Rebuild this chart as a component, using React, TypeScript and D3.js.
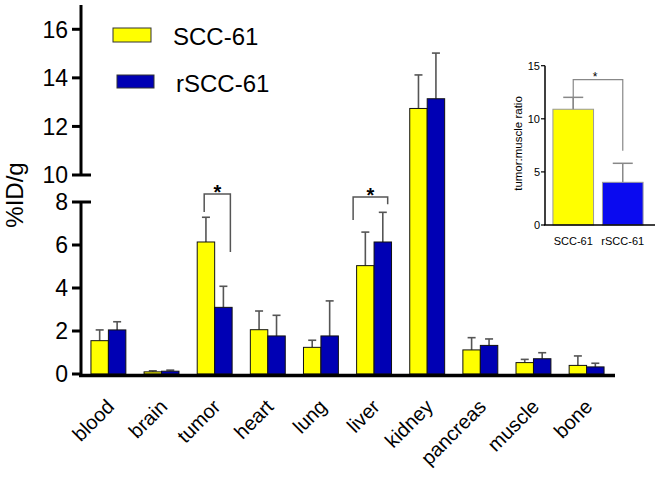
import React from "react";
import * as d3 from "d3";

const organs = ["blood", "brain", "tumor", "heart", "lung", "liver", "kidney", "pancreas", "muscle", "bone"];
const seriesNames = ["SCC-61", "rSCC-61"];
const scc61 = [1.55, 0.1, 6.14, 2.06, 1.24, 5.04, 12.74, 1.12, 0.53, 0.4];
const scc61Err = [0.5, 0.05, 1.15, 0.87, 0.33, 1.56, 1.38, 0.57, 0.15, 0.44];
const rscc61 = [2.05, 0.13, 3.1, 1.77, 1.77, 6.14, 13.14, 1.33, 0.71, 0.33];
const rscc61Err = [0.38, 0.05, 0.98, 0.96, 1.63, 1.38, 1.88, 0.3, 0.28, 0.17];
const lowerTicks = [0, 2, 4, 6, 8];
const upperTicks = [10, 12, 14, 16];
const yLabel = "%ID/g";

// significance brackets: group, top value, left leg end, right leg end, leg x as fraction of group width
const brackets = [
  { group: "tumor", top: 8.6, leftEnd: 7.53, rightEnd: 5.67, x0: 0.2, x1: 0.95 },
  { group: "liver", top: 8.37, leftEnd: 7.16, rightEnd: 7.9, x0: -0.1, x1: 0.89 },
];

// inset
const insetCats = ["SCC-61", "rSCC-61"];
const insetValues = [10.9, 4.02];
const insetErr = [1.12, 1.79];
const insetTicks = [0, 5, 10, 15];
const insetLabel = "tumor:muscle ratio";
const insetBracket = { top: 13.68, leftEnd: 10.9, rightEnd: 7.0 };

const FONT = "'Liberation Sans', Arial, Helvetica, sans-serif";
const YELLOW = "#ffff00";
const BLUE = "#0000b4";
const ERR = "#555555";

export default function App() {
  const W = 656, H = 479;
  const axisX = 81;
  const x = d3.scaleBand<string>().domain(organs).range([80, 615]).paddingInner(0.343).paddingOuter(0.206);
  const sub = d3.scaleBand<string>().domain(seriesNames).range([0, x.bandwidth()]);
  const yLow = d3.scaleLinear().domain([0, 8]).range([374, 202]);
  const yUp = d3.scaleLinear().domain([10, 17]).range([175, 5]);
  const yGap = d3.scaleLinear().domain([8, 10]).range([202, 175]);
  const y = (v: number) => (v <= 8 ? yLow(v) : v >= 10 ? yUp(v) : yGap(v));

  const series = [
    { name: seriesNames[0], vals: scc61, errs: scc61Err, color: YELLOW },
    { name: seriesNames[1], vals: rscc61, errs: rscc61Err, color: BLUE },
  ];

  // inset scales
  const ix = d3.scaleBand<string>().domain(insetCats).range([545, 651]).paddingInner(0.18).paddingOuter(0.16);
  const iy = d3.scaleLinear().domain([0, 15]).range([225, 65.7]);
  const insetColors = [YELLOW, "#0a0af0"];

  return (
    <svg width={W} height={H} style={{ position: "absolute", left: 0, top: 0, background: "#fff" }} fontFamily={FONT}>
      {/* bars */}
      {series.map((s) =>
        organs.map((o, i) => {
          const bx = (x(o) as number) + (sub(s.name) as number);
          const bw = sub.bandwidth();
          const v = s.vals[i];
          const top = v + s.errs[i];
          const cx = bx + bw / 2;
          return (
            <g key={s.name + o}>
              <line x1={cx} x2={cx} y1={y(v)} y2={y(top)} stroke={ERR} strokeWidth={1.6} />
              <line x1={cx - 4} x2={cx + 4} y1={y(top)} y2={y(top)} stroke={ERR} strokeWidth={1.6} />
              <rect x={bx} y={y(v)} width={bw} height={y(0) - y(v)} fill={s.color} stroke="#111" strokeWidth={1} />
            </g>
          );
        })
      )}
      {/* brackets */}
      {brackets.map((b) => {
        const gx = x(b.group) as number;
        const lx = gx + b.x0 * x.bandwidth();
        const rx = gx + b.x1 * x.bandwidth();
        return (
          <g key={b.group}>
            <path
              d={`M${lx},${y(b.leftEnd)}V${y(b.top)}H${rx}V${y(b.rightEnd)}`}
              fill="none"
              stroke={ERR}
              strokeWidth={1.5}
            />
            <text x={(lx + rx) / 2} y={y(b.top) + 5} textAnchor="middle" fontSize={20} fontWeight="bold">*</text>
          </g>
        );
      })}
      {/* x axis baseline */}
      <line x1={79} x2={615} y1={y(0) + 1.5} y2={y(0) + 1.5} stroke="#000" strokeWidth={3.5} />
      {/* y axis lines */}
      <line x1={axisX} x2={axisX} y1={yUp(17)} y2={yUp(10)} stroke="#000" strokeWidth={3} />
      <line x1={axisX} x2={axisX} y1={yLow(8)} y2={yLow(0) + 2} stroke="#000" strokeWidth={3} />
      {/* ticks */}
      {upperTicks.map((t) => (
        <g key={"u" + t}>
          <line x1={72} x2={t === 10 ? 91 : axisX} y1={yUp(t)} y2={yUp(t)} stroke="#000" strokeWidth={3} />
          <text x={68} y={yUp(t)} dy="0.36em" textAnchor="end" fontSize={23}>{t}</text>
        </g>
      ))}
      {lowerTicks.map((t) => (
        <g key={"l" + t}>
          <line x1={72} x2={t === 8 ? 91 : axisX} y1={yLow(t)} y2={yLow(t)} stroke="#000" strokeWidth={3} />
          <text x={68} y={yLow(t)} dy="0.36em" textAnchor="end" fontSize={23}>{t}</text>
        </g>
      ))}
      <text transform="translate(23,195) rotate(-90)" textAnchor="middle" fontSize={24}>{yLabel}</text>
      {/* x labels */}
      {organs.map((o) => {
        const cx = (x(o) as number) + x.bandwidth() / 2;
        return (
          <text key={o} transform={`translate(${cx + 7},${408}) rotate(-45)`} textAnchor="end" fontSize={20}>{o}</text>
        );
      })}
      {/* legend */}
      <rect x={113} y={28} width={38} height={14} fill={YELLOW} stroke="#333" strokeWidth={1} />
      <text x={173} y={45} fontSize={24}>{seriesNames[0]}</text>
      <rect x={117} y={75} width={37} height={13} fill={BLUE} stroke="#333" strokeWidth={1} />
      <text x={176} y={91.5} fontSize={24}>{seriesNames[1]}</text>

      {/* inset */}
      {insetCats.map((c, i) => {
        const bx = ix(c) as number;
        const bw = ix.bandwidth();
        const cx = bx + bw / 2;
        const top = insetValues[i] + insetErr[i];
        return (
          <g key={c}>
            <line x1={cx} x2={cx} y1={iy(insetValues[i])} y2={iy(top)} stroke="#888" strokeWidth={1.5} />
            <line x1={cx - 10} x2={cx + 10} y1={iy(top)} y2={iy(top)} stroke="#888" strokeWidth={1.5} />
            <rect x={bx} y={iy(insetValues[i])} width={bw} height={iy(0) - iy(insetValues[i])} fill={insetColors[i]} stroke="#999" strokeWidth={1} />
            <text x={cx} y={245} textAnchor="middle" fontSize={11}>{c}</text>
          </g>
        );
      })}
      {(() => {
        const lx = (ix(insetCats[0]) as number) + ix.bandwidth() / 2;
        const rx = (ix(insetCats[1]) as number) + ix.bandwidth() / 2;
        return (
          <g>
            <path
              d={`M${lx},${iy(insetBracket.leftEnd)}V${iy(insetBracket.top)}H${rx}V${iy(insetBracket.rightEnd)}`}
              fill="none"
              stroke="#888"
              strokeWidth={1.2}
            />
            <text x={(lx + rx) / 2 - 3} y={iy(insetBracket.top) + 1} textAnchor="middle" fontSize={12}>*</text>
          </g>
        );
      })()}
      <line x1={545} x2={545} y1={iy(15)} y2={iy(0)} stroke="#000" strokeWidth={1.5} />
      <line x1={544} x2={655} y1={iy(0)} y2={iy(0)} stroke="#000" strokeWidth={1.5} />
      {insetTicks.map((t) => (
        <g key={"i" + t}>
          <line x1={541} x2={545} y1={iy(t)} y2={iy(t)} stroke="#000" strokeWidth={1.2} />
          <text x={540} y={iy(t)} dy="0.35em" textAnchor="end" fontSize={11}>{t}</text>
        </g>
      ))}
      <text transform="translate(522,143.5) rotate(-90)" textAnchor="middle" fontSize={11.5}>{insetLabel}</text>
    </svg>
  );
}
